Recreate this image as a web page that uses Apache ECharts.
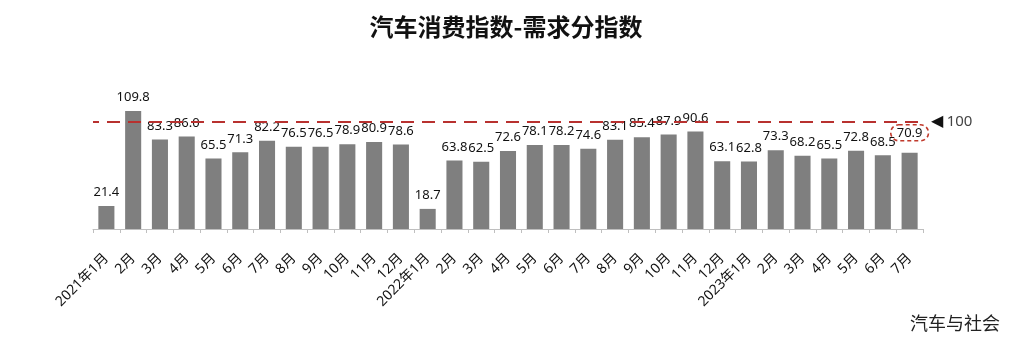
<!DOCTYPE html>
<html>
<head>
<meta charset="utf-8">
<script src="https://cdn.jsdelivr.net/npm/echarts@6/dist/echarts.min.js"></script>
<style>
  html, body { margin: 0; padding: 0; background: #fff; }
  #chart { width: 1012px; height: 337px; }
</style>
</head>
<body>
<div id="chart"></div>
<script>
// Monthly categories, Jan 2021 – Jul 2023
const categories = [
  '2021年1月', '2月', '3月', '4月', '5月', '6月', '7月', '8月', '9月', '10月', '11月', '12月',
  '2022年1月', '2月', '3月', '4月', '5月', '6月', '7月', '8月', '9月', '10月', '11月', '12月',
  '2023年1月', '2月', '3月', '4月', '5月', '6月', '7月'
];

// Demand sub-index values
const demandIndex = [
  21.4, 109.8, 83.3, 86.0, 65.5, 71.3, 82.2, 76.5, 76.5, 78.9, 80.9, 78.6,
  18.7, 63.8, 62.5, 72.6, 78.1, 78.2, 74.6, 83.1, 85.4, 87.9, 90.6, 63.1,
  62.8, 73.3, 68.2, 65.5, 72.8, 68.5, 70.9
];

// Reference level
const baseline = 100;

const titleText = '汽车消费指数-需求分指数';
const sourceText = '汽车与社会';

const FONT = '"Noto Sans", "Noto Sans CJK SC", sans-serif';
const CJK = '"Noto Sans CJK SC", sans-serif';
const lastIdx = demandIndex.length - 1;

const barData = demandIndex.map((v, i) => {
  if (i !== lastIdx) return v;
  // latest month: label framed by a dashed red outline
  return {
    value: v,
    label: {
      borderColor: '#c0392b',
      borderWidth: 1.6,
      borderType: [4, 3],
      borderRadius: 10,
      padding: [2, 6, 1, 6],
      distance: 12
    }
  };
});

const chart = echarts.init(document.getElementById('chart'));
chart.setOption({
  backgroundColor: '#ffffff',
  animation: false,
  title: {
    text: titleText,
    left: 'center',
    top: 10,
    textStyle: { fontFamily: CJK, fontSize: 24, fontWeight: 'bold', color: '#111' }
  },
  graphic: [{
    type: 'text',
    right: 12,
    bottom: 5,
    style: { text: sourceText, font: '18px ' + CJK, fill: '#222' }
  }],
  grid: { left: 93, right: 89, top: 100, height: 129 },
  xAxis: {
    type: 'category',
    data: categories,
    axisLine: { lineStyle: { color: '#bfbfbf', width: 1 } },
    axisTick: { show: true, length: 4, lineStyle: { color: '#bfbfbf' } },
    axisLabel: {
      interval: 0,
      rotate: 45,
      margin: 27,
      fontFamily: FONT,
      fontSize: 14,
      color: '#111'
    }
  },
  yAxis: {
    type: 'value',
    min: 0,
    max: 120,
    show: false,
    splitLine: { show: false }
  },
  series: [{
    type: 'bar',
    data: barData,
    barCategoryGap: '40%',
    itemStyle: { color: '#7f7f7f' },
    label: {
      show: true,
      position: 'top',
      distance: 7,
      fontFamily: FONT,
      fontSize: 13,
      color: '#111',
      formatter: p => p.value.toFixed(1)
    },
    markLine: {
      silent: true,
      symbol: ['none', 'none'],
      lineStyle: { color: '#b8312f', width: 2, type: [13, 8], dashOffset: -14 },
      label: {
        show: true,
        position: 'end',
        distance: 8,
        formatter: '{a|◀} {b|' + baseline + '}',
        rich: {
          a: { fontFamily: 'DejaVu Sans', fontSize: 16, color: '#111' },
          b: { fontFamily: FONT, fontSize: 15, color: '#444' }
        }
      },
      data: [{ yAxis: baseline }]
    },
    z: 2
  }]
});
</script>
</body>
</html>
